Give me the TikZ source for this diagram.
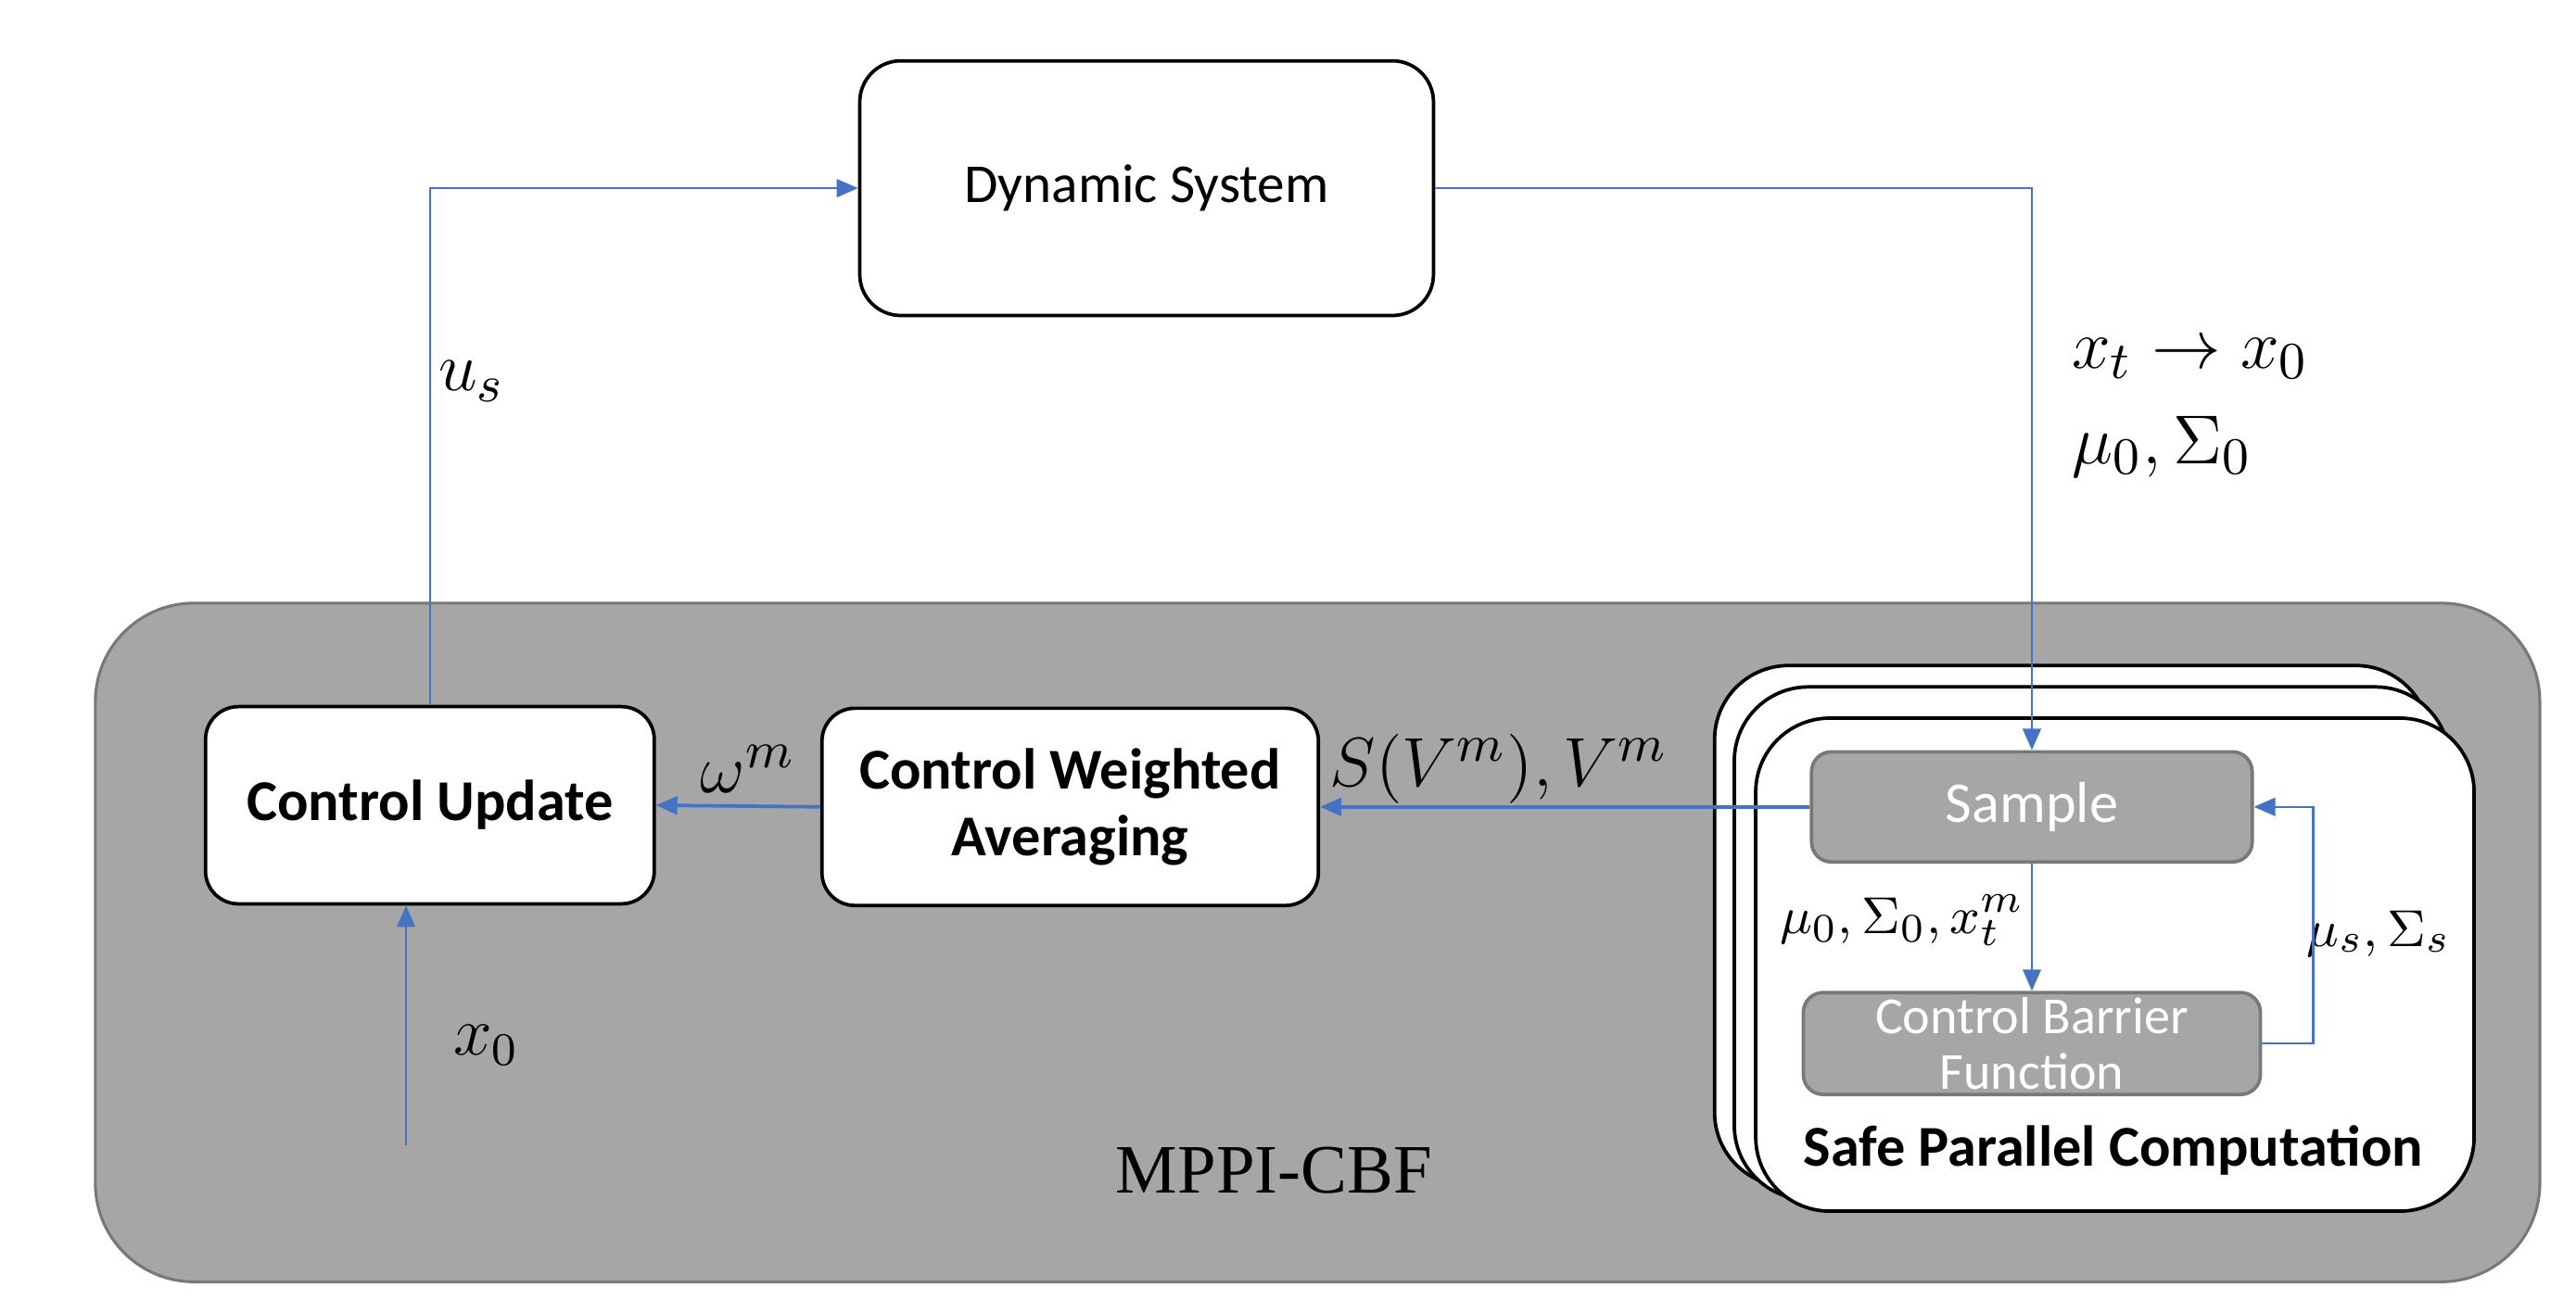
\documentclass[tikz,border=0pt]{standalone}
\usepackage{fontspec}
\setmainfont{Carlito}
\newfontfamily\timesfont{Liberation Serif}
\usetikzlibrary{calc, arrows.meta, positioning}
\usepackage{xcolor}
\definecolor{flowblue}{RGB}{68,114,196}
\definecolor{panelgray}{RGB}{166,166,166}
\definecolor{edgegray}{RGB}{120,120,120}

\begin{document}
\begin{tikzpicture}[auto, >={Triangle[length=1.3mm, width=1.1mm]}]
				\tikzstyle{block} = [draw=black, line width=0.6pt, fill=white, rounded corners=0.2cm, font=\fontsize{10}{11.5}\selectfont\bfseries, align=center, inner sep=0pt]
				\tikzstyle{stack} = [draw=black, line width=0.6pt, fill=white, rounded corners=0.45cm]
				\tikzstyle{inner} = [draw=edgegray, line width=0.6pt, fill=panelgray, rounded corners=0.12cm, text=white, font=\fontsize{9}{9.6}\selectfont, align=center, inner sep=0pt]
				\tikzstyle{flow} = [->, draw=flowblue, line width=0.4pt]
				\tikzstyle{lbl} = [draw=none, font=\fontsize{12.5}{15}\selectfont]
				\tikzstyle{small} = [draw=none, font=\fontsize{9.5}{11}\selectfont]
				
				\useasboundingbox (0,0) rectangle (15.67,-7.99);
				
				% outer panel
				\draw[draw=edgegray, fill=panelgray, line width=0.5pt, rounded corners=0.6cm] (0.58,-3.67) rectangle (15.45,-7.80);
				
				\node[block, minimum width=3.49cm, minimum height=1.55cm, rounded corners=0.25cm, font=\fontsize{9.5}{11}\selectfont]	at (6.975,-1.145)	(sys)	{Dynamic System};
				\node[block, minimum width=2.73cm, minimum height=1.20cm]	at (2.615,-4.90)	(update)	{Control Update};
				\node[block, minimum width=3.02cm, minimum height=1.20cm]	at (6.51,-4.91)	(avg)	{Control Weighted\\Averaging};
				
				% parallel copies
				\draw[stack] (10.43,-4.05) rectangle (14.78,-7.22);
				\draw[stack] (10.55,-4.18) rectangle (14.90,-7.30);
				\node[stack, minimum width=4.37cm, minimum height=3.00cm, inner sep=0pt]	at (12.865,-5.87)	(front)	{};
				
				\node[inner, minimum width=2.68cm, minimum height=0.67cm, font=\fontsize{10}{11}\selectfont]	at (12.36,-4.91)	(sample)	{Sample};
				\node[inner, minimum width=2.78cm, minimum height=0.62cm]	at (12.36,-6.35)	(cbf)	{Control Barrier\\Function};
				\node[draw=none, font=\fontsize{10}{11}\selectfont\bfseries]	at (12.855,-7.0)	(spc)	{Safe Parallel Computation};
				\node[draw=none, font=\fontsize{12}{14}\selectfont\timesfont]	at (7.75,-7.12)	(mppi)	{MPPI-CBF};
				
				\coordinate (xin) at (2.47,-6.97);
				
				\node[lbl]	at (2.87,-2.32)	(us)	{$u_s$};
				\node[lbl, anchor=west]	at (12.48,-2.18)	(xt)	{$x_t \rightarrow x_0$};
				\node[lbl, anchor=west]	at (12.48,-2.72)	(mu0)	{$\mu_0, \Sigma_0$};
				\node[lbl]	at (4.55,-4.68)	(wm)	{$\omega^m$};
				\node[lbl]	at (9.12,-4.68)	(svm)	{$S(V^m), V^m$};
				\node[small]	at (11.57,-5.60)	(musx)	{$\mu_0, \Sigma_0, x_t^m$};
				\node[small]	at (14.47,-5.68)	(muss)	{$\mu_s, \Sigma_s$};
				\node[lbl, font=\fontsize{12}{14}\selectfont]	at (2.96,-6.36)	(x0)	{$x_0$};
				
				\draw[flow] (update.north) |- (sys.west);
				\draw[flow] (sys.east) -| (sample.north);
				\draw[flow, line width=0.6pt] (sample.west) -- (avg.east);
				\draw[flow, line width=0.6pt] (avg.west) -- (update.east);
				\draw[flow] (xin) -- (xin |- update.south);
				\draw[flow] (sample.south) -- (cbf.north);
				\draw[flow] (cbf.east) -- ++(0.31,0) |- (sample.east);
			\end{tikzpicture}
\end{document}
